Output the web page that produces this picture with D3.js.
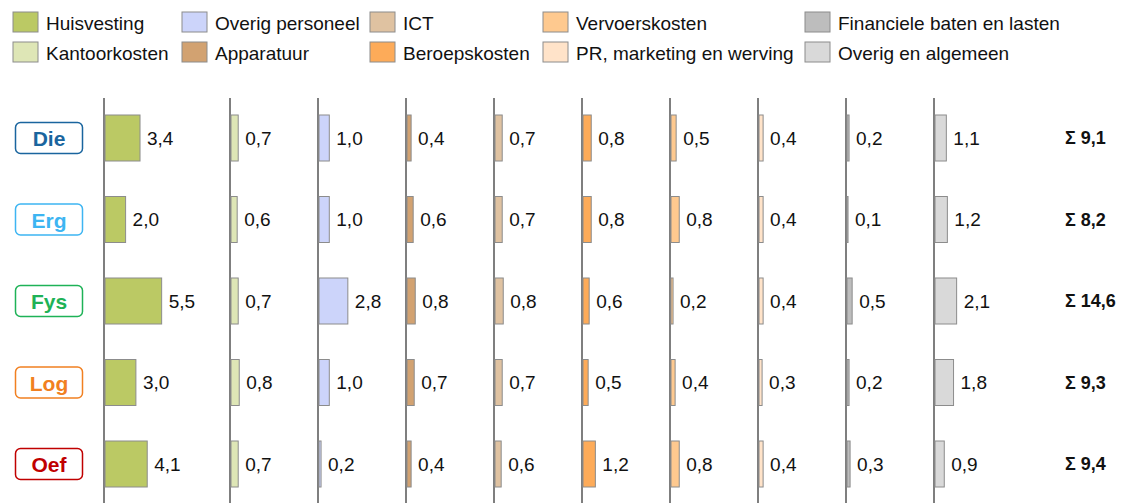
<!DOCTYPE html>
<html>
<head>
<meta charset="utf-8">
<script src="https://cdn.jsdelivr.net/npm/d3@7"></script>
<style>
  body { margin: 0; background: #fff; }
  svg { display: block; font-family: "Liberation Sans", Arial, sans-serif; }
</style>
</head>
<body>
<div id="graph"><svg></svg></div>
<script>
// categories (cost types), in column order
let categories = [
  "Huisvesting", "Kantoorkosten", "Overig personeel", "Apparatuur", "ICT",
  "Beroepskosten", "Vervoerskosten", "PR, marketing en werving",
  "Financiele baten en lasten", "Overig en algemeen"
];
let colors = [
  "#bbc964", "#dee6b6", "#ccd4fa", "#d2a271", "#dfc2a1",
  "#fdab59", "#fec98f", "#ffe3c9", "#bdbdbd", "#d9d9d9"
];

// rows (units)
let units = ["Die", "Erg", "Fys", "Log", "Oef"];
let unitColors = ["#1a659e", "#3db5f2", "#1eb257", "#f18021", "#c00000"];

// values per unit, same order as categories
let dieValues = [3.4, 0.7, 1.0, 0.4, 0.7, 0.8, 0.5, 0.4, 0.2, 1.1];
let ergValues = [2.0, 0.6, 1.0, 0.6, 0.7, 0.8, 0.8, 0.4, 0.1, 1.2];
let fysValues = [5.5, 0.7, 2.8, 0.8, 0.8, 0.6, 0.2, 0.4, 0.5, 2.1];
let logValues = [3.0, 0.8, 1.0, 0.7, 0.7, 0.5, 0.4, 0.3, 0.2, 1.8];
let oefValues = [4.1, 0.7, 0.2, 0.4, 0.6, 1.2, 0.8, 0.4, 0.3, 0.9];
let totals = [9.1, 8.2, 14.6, 9.3, 9.4];

let values = [dieValues, ergValues, fysValues, logValues, oefValues];

let width = 1125;
let height = 503;

let svg = d3.select("#graph svg").attr("width", width).attr("height", height);

let fmt = (v) => d3.format(".1f")(v).replace(".", ",");

// scales
let yScale = d3.scalePoint().domain(units).range([138, 464]);
let barHeight = 46;
let xScale = d3.scaleLinear().domain([0, 1]).range([0, 10.3]);

// column origins: first column a bit wider
let colX = (i) => (i === 0 ? 104 : 230 + (i - 1) * 88);

// legend
let legendX = [13, 182, 370, 543, 805];
let legend = svg.append("g").attr("id", "legend");
categories.forEach((c, i) => {
  let col = Math.floor(i / 2);
  let row = i % 2;
  let g = legend.append("g")
    .attr("transform", "translate(" + legendX[col] + "," + (12 + row * 30) + ")");
  g.append("rect")
    .attr("width", 25).attr("height", 20)
    .attr("fill", colors[i])
    .attr("stroke", "#8c8c8c").attr("stroke-width", 1);
  g.append("text")
    .attr("x", 33).attr("y", 11)
    .attr("dy", "0.35em")
    .style("font-size", "19px")
    .style("fill", "#111")
    .text(c);
});

// vertical axis lines
svg.append("g")
  .selectAll("line")
  .data(categories)
  .join("line")
  .attr("x1", (d, i) => colX(i)).attr("x2", (d, i) => colX(i))
  .attr("y1", 98).attr("y2", height)
  .attr("stroke", "#7f7f7f").attr("stroke-width", 2);

// bars and labels
values.forEach((row, r) => {
  let u = units[r];
  let g = svg.append("g");
  g.selectAll("rect")
    .data(row)
    .join("rect")
    .attr("x", (d, i) => colX(i) + 1)
    .attr("y", yScale(u) - barHeight / 2)
    .attr("width", (d) => xScale(d))
    .attr("height", barHeight)
    .attr("fill", (d, i) => colors[i])
    .attr("stroke", "#8c8c8c").attr("stroke-width", 1);

  g.selectAll("text")
    .data(row)
    .join("text")
    .attr("x", (d, i) => colX(i) + xScale(d) + 8)
    .attr("y", yScale(u))
    .attr("dy", "0.35em")
    .style("font-size", "19px")
    .style("fill", "#111")
    .text((d) => fmt(d));

  // unit label box
  svg.append("rect")
    .attr("x", 15.5).attr("y", yScale(u) - 15.5)
    .attr("width", 67).attr("height", 31)
    .attr("rx", 5)
    .attr("fill", "#fff")
    .attr("stroke", unitColors[r]).attr("stroke-width", 1.5);
  svg.append("text")
    .attr("x", 49).attr("y", yScale(u) + 1)
    .attr("dy", "0.35em")
    .attr("text-anchor", "middle")
    .style("font-size", "21px")
    .style("font-weight", "bold")
    .style("fill", unitColors[r])
    .text(u);

  // total
  svg.append("text")
    .attr("x", 1065).attr("y", yScale(u))
    .attr("dy", "0.35em")
    .style("font-size", "18px")
    .style("font-weight", "bold")
    .style("fill", "#111")
    .text("Σ " + fmt(totals[r]));
});
</script>
</body>
</html>
